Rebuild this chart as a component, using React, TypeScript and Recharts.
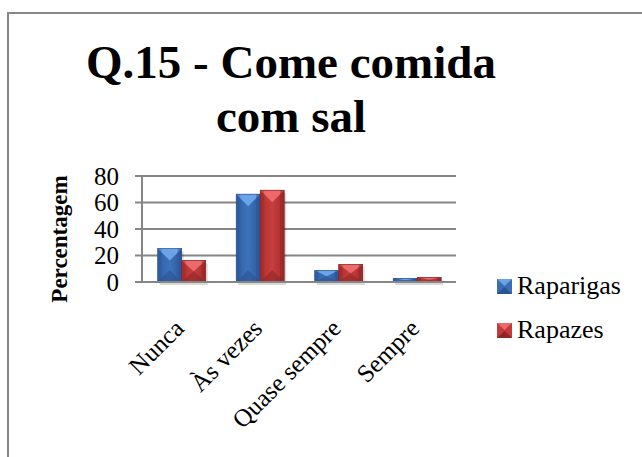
import React from 'react';
import { BarChart, Bar, XAxis, YAxis, CartesianGrid, Legend } from 'recharts';

const categories = ['Nunca', 'Às vezes', 'Quase sempre', 'Sempre'];
const raparigas = [25.2, 66.3, 8.7, 2.8];
const rapazes = [16.3, 69.3, 13.3, 3.5];
const yTicks = [0, 20, 40, 60, 80];
const seriesNames = ['Raparigas', 'Rapazes'];

const data = categories.map((c, i) => ({ name: c, Raparigas: raparigas[i], Rapazes: rapazes[i] }));

const FONT = '"Liberation Serif"';

const palettes: Record<string, { base: string; light: string; dark: string; edge: string }> = {
  blue: { base: '#3b6db4', light: '#6aa3e8', dark: '#2b5292', edge: '#244a86' },
  red: { base: '#c23a3a', light: '#ec6a6a', dark: '#8e2626', edge: '#7e2020' },
};

const BevelBar = (pal: 'blue' | 'red') => (props: any) => {
  const { x, y, width, height } = props;
  if (!width || height <= 0) return null;
  const p = palettes[pal];
  const d = Math.min(width / 2, height / 2, 12);
  const s = Math.min(4, width / 5);
  return (
    <g>
      <rect x={x + 2} y={y + 3} width={width} height={height} fill="rgba(0,0,0,0.15)" />
      <rect x={x} y={y} width={width} height={height} fill={`url(#grad-${pal})`} />
      <polygon points={`${x},${y} ${x + width},${y} ${x + width / 2},${y + d}`} fill={p.light} />
      <polygon points={`${x},${y + height} ${x + width},${y + height} ${x + width / 2},${y + height - d}`} fill={p.dark} opacity={0.6} />
      <rect x={x} y={y} width={s} height={height} fill={p.dark} opacity={0.35} />
      <rect x={x + width - s} y={y} width={s} height={height} fill={p.dark} opacity={0.5} />
      <rect x={x} y={y} width={width} height={height} fill="none" stroke={p.edge} strokeWidth={0.6} />
    </g>
  );
};

const XTick = (props: any) => {
  const { x, y, payload } = props;
  const ax = x + 4;
  const ay = y + 40;
  return (
    <text x={ax} y={ay} transform={`rotate(-45, ${ax}, ${ay})`} textAnchor="end" fontFamily={FONT} fontSize={25} fill="#000">
      {payload.value}
    </text>
  );
};

const LegendContent = () => (
  <div style={{ fontFamily: FONT, fontSize: 26, color: '#000' }}>
    {seriesNames.map((n, i) => (
      <div key={n} style={{ display: 'flex', alignItems: 'center', height: 44 }}>
        <svg width={15} height={15} style={{ marginRight: 5 }}>
          <rect x={0} y={0} width={15} height={15} fill={i === 0 ? palettes.blue.base : palettes.red.base} />
          <polygon points="0,0 15,0 7.5,7" fill={i === 0 ? palettes.blue.light : palettes.red.light} />
          <polygon points="0,15 15,15 7.5,8" fill={i === 0 ? palettes.blue.dark : palettes.red.dark} />
        </svg>
        <span>{n}</span>
      </div>
    ))}
  </div>
);

export default function App() {
  return (
    <div style={{ position: 'fixed', left: 0, top: 0, width: 642, height: 457, overflow: 'hidden', background: '#fff' }}>
      <div style={{ position: 'absolute', left: 7, top: 12, width: 700, height: 500, border: '2px solid #878787', boxSizing: 'border-box' }} />
      <div style={{ position: 'absolute', left: 0, top: 0 }}>
        <BarChart
          width={642}
          height={457}
          data={data}
          margin={{ top: 176, right: 186, bottom: 115, left: 82 }}
          barCategoryGap="20%"
          barGap={0}
        >
          <defs>
            <linearGradient id="grad-blue" x1="0" y1="0" x2="1" y2="0">
              <stop offset="0" stopColor="#2f5fa6" />
              <stop offset="0.5" stopColor="#3d72bb" />
              <stop offset="1" stopColor="#2c5a9e" />
            </linearGradient>
            <linearGradient id="grad-red" x1="0" y1="0" x2="1" y2="0">
              <stop offset="0" stopColor="#b03030" />
              <stop offset="0.5" stopColor="#c83e3e" />
              <stop offset="1" stopColor="#a52c2c" />
            </linearGradient>
          </defs>
          <CartesianGrid horizontal vertical={false} stroke="#868686" strokeWidth={2} />
          <XAxis
            dataKey="name"
            height={60}
            interval={0}
            tickLine={false}
            axisLine={{ stroke: '#868686', strokeWidth: 2 }}
            tick={<XTick />}
          />
          <YAxis
            width={60}
            domain={[0, 80]}
            ticks={yTicks}
            interval={0}
            tickSize={7}
            tickMargin={16}
            axisLine={{ stroke: '#868686', strokeWidth: 2 }}
            tickLine={{ stroke: '#868686', strokeWidth: 2 }}
            tick={{ fontFamily: FONT, fontSize: 25, fill: '#000' }}
          />
          <Legend
            layout="vertical"
            verticalAlign="middle"
            align="center"
            content={<LegendContent />}
            wrapperStyle={{ position: 'absolute', left: 497, top: 264, width: 145, height: 90 }}
          />
          <Bar dataKey="Raparigas" name="Raparigas" isAnimationActive={false} shape={BevelBar('blue')} fill={palettes.blue.base} />
          <Bar dataKey="Rapazes" name="Rapazes" isAnimationActive={false} shape={BevelBar('red')} fill={palettes.red.base} />
        </BarChart>
      </div>
      <svg width={642} height={457} style={{ position: 'absolute', left: 0, top: 0, pointerEvents: 'none' }}>
        <text x={291} y={78} textAnchor="middle" fontFamily={FONT} fontWeight="bold" fontSize={47} fill="#000">
          Q.15 - Come comida
        </text>
        <text x={291} y={132} textAnchor="middle" fontFamily={FONT} fontWeight="bold" fontSize={47} fill="#000">
          com sal
        </text>
        <text x={67} y={239} transform="rotate(-90, 67, 239)" textAnchor="middle" fontFamily={FONT} fontWeight="bold" fontSize={23} fill="#000">
          Percentagem
        </text>
      </svg>
    </div>
  );
}
